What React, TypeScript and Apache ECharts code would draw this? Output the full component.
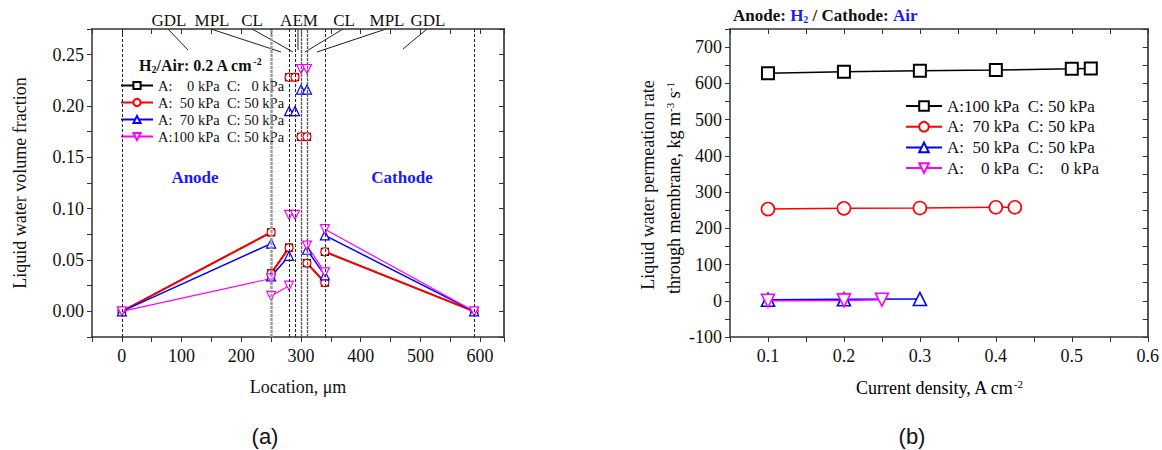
import React, { useEffect, useRef } from "react";
import * as echarts from "echarts";

const SERIF = "'Liberation Serif', 'Times New Roman', serif";
const SANS = "'Liberation Sans', Arial, sans-serif";

// ---------- (a) Liquid water volume fraction vs location ----------
const layerLines = [0, 250, 280, 290, 300, 310, 340, 590];
const leftSegX = [
  [0, 250],
  [250, 280],
  [280, 290],
  [300, 310],
  [310, 340],
  [340, 590],
];
const leftA0C0 = [[0, 0.077], [0.037, 0.062], [0.228, 0.228], [0.17, 0.17], [0.047, 0.028], [0.058, 0]];
const leftA50C50 = [[0, 0.077], [0.037, 0.062], [0.228, 0.228], [0.17, 0.17], [0.047, 0.028], [0.058, 0]];
const leftA70C50 = [[0, 0.066], [0.034, 0.054], [0.195, 0.195], [0.216, 0.216], [0.06, 0.035], [0.074, 0]];
const leftA100C50 = [[0, 0.032], [0.015, 0.025], [0.094, 0.094], [0.236, 0.236], [0.064, 0.038], [0.08, 0]];
const layerNames = ["GDL", "MPL", "CL", "AEM", "CL", "MPL", "GDL"];

// ---------- (b) permeation rate vs current density ----------
const rA100C50X = [0.1, 0.2, 0.3, 0.4, 0.5, 0.525];
const rA100C50 = [628, 632, 635, 637, 640, 641];
const rA70C50X = [0.1, 0.2, 0.3, 0.4, 0.425];
const rA70C50 = [253, 255, 256, 258, 258];
const rA50C50X = [0.1, 0.2, 0.3];
const rA50C50 = [3, 4, 5];
const rA0C0X = [0.1, 0.2, 0.25];
const rA0C0 = [0, 1, 3];

const legendLabels: Record<string, string> = {
  L0: "A:    0 kPa  C:   0 kPa",
  L50: "A:  50 kPa  C: 50 kPa",
  L70: "A:  70 kPa  C: 50 kPa",
  L100: "A:100 kPa  C: 50 kPa",
  R100: "A:100 kPa  C: 50 kPa",
  R70: "A:  70 kPa  C: 50 kPa",
  R50: "A:  50 kPa  C: 50 kPa",
  R0: "A:    0 kPa  C:    0 kPa",
};

function buildLeft(vals: number[][]) {
  const out: any[] = [];
  vals.forEach((pair, i) => {
    if (i > 0) out.push([leftSegX[i][0], "-"]);
    out.push([leftSegX[i][0], pair[0]], [leftSegX[i][1], pair[1]]);
  });
  return out;
}
function zip(xs: number[], ys: number[]) {
  return xs.map((x, i) => [x, ys[i]]);
}

const axisLineStyle = { color: "#333", width: 1.5 };
const labelStyle = { fontFamily: SERIF, fontSize: 18, color: "#111" };

function mirrorX(grid: number, min: number, max: number, interval: number) {
  return {
    gridIndex: grid, type: "value", position: "top", min, max, interval,
    axisLine: { show: true, onZero: false, lineStyle: axisLineStyle },
    axisTick: { show: true, inside: true, length: 5, lineStyle: { color: "#333" } },
    axisLabel: { show: false }, splitLine: { show: false },
  };
}
function mirrorY(grid: number, min: number, max: number, interval: number) {
  return {
    gridIndex: grid, type: "value", position: "right", min, max, interval,
    axisLine: { show: true, onZero: false, lineStyle: { color: "#555", width: 2 } },
    axisTick: { show: true, inside: true, length: 5, lineStyle: { color: "#333" } },
    axisLabel: { show: false }, splitLine: { show: false },
  };
}

function leftSeries(id: string, vals: number[][], color: string, symbol: string, size: number, lw: number, rotate = 0, extra: any = {}) {
  return {
    name: id, type: "line", xAxisIndex: 0, yAxisIndex: 0,
    data: buildLeft(vals), color,
    symbol, symbolSize: size, symbolRotate: rotate, showAllSymbol: true,
    connectNulls: false,
    lineStyle: { color, width: lw },
    itemStyle: { color: "#fff", borderColor: color, borderWidth: 1.2 },
    ...extra,
  };
}
function rightSeries(id: string, xs: number[], ys: number[], color: string, symbol: string, size: number, bw: number, rotate = 0) {
  return {
    name: id, type: "line", xAxisIndex: 2, yAxisIndex: 2,
    data: zip(xs, ys), color,
    symbol, symbolSize: size, symbolRotate: rotate, showAllSymbol: true,
    lineStyle: { color, width: 1.5 },
    itemStyle: { color: "#fff", borderColor: color, borderWidth: bw },
  };
}

const supRich = {
  n: { fontFamily: SERIF, fontSize: 18, color: "#111", lineHeight: 20 },
  s: { fontFamily: SERIF, fontSize: 11, color: "#111", lineHeight: 11, verticalAlign: "top" },
};

const center = { align: "center", verticalAlign: "middle", textAlign: "center", textVerticalAlign: "middle" };

export default function App() {
  const ref = useRef<HTMLDivElement>(null);
  useEffect(() => {
    if (!ref.current) return;
    const chart = echarts.init(ref.current, null, { renderer: "svg" });
    const topCenters = [169, 212, 252, 299, 344, 387, 428];
    const leaders = [
      [168, 29, 188, 50],
      [211, 29, 281, 52],
      [252, 29, 293, 52],
      [298, 29, 298, 50],
      [343, 29, 305, 52],
      [386, 29, 317, 52],
      [427, 29, 403, 49],
    ];
    const graphics: any[] = [];
    layerNames.forEach((t, i) => {
      graphics.push({
        type: "text", x: topCenters[i], y: 20,
        style: { text: t, fontFamily: SERIF, fontSize: 17, fill: "#111", ...center },
      });
    });
    leaders.forEach((l) => {
      graphics.push({ type: "line", shape: { x1: l[0], y1: l[1], x2: l[2], y2: l[3] }, style: { stroke: "#222", lineWidth: 1 } });
    });
    graphics.push(
      {
        type: "text", x: 139, y: 65,
        style: {
          text: "{b|H}{bs|2}{b|/Air: 0.2 A cm}{bp|-2}",
          verticalAlign: "middle", textVerticalAlign: "middle",
          rich: {
            b: { fontFamily: SERIF, fontSize: 16, fontWeight: "bold", fill: "#111", lineHeight: 18 },
            bs: { fontFamily: SERIF, fontSize: 10, fontWeight: "bold", fill: "#111", lineHeight: 10, verticalAlign: "bottom" },
            bp: { fontFamily: SERIF, fontSize: 10, fontWeight: "bold", fill: "#111", lineHeight: 10, verticalAlign: "top" },
          },
        },
      },
      { type: "text", x: 195, y: 177, style: { text: "Anode", fontFamily: SERIF, fontSize: 17, fontWeight: "bold", fill: "#1a1aff", ...center } },
      { type: "text", x: 402, y: 177, style: { text: "Cathode", fontFamily: SERIF, fontSize: 17, fontWeight: "bold", fill: "#1a1aff", ...center } },
      { type: "text", x: 20, y: 183, rotation: Math.PI / 2, style: { text: "Liquid water volume fraction", fontFamily: SERIF, fontSize: 18, fill: "#111", ...center } },
      { type: "text", x: 298, y: 387, style: { text: "Location, \u03bcm", fontFamily: SERIF, fontSize: 18, fill: "#111", ...center } },
      {
        type: "text", x: 733, y: 15,
        style: {
          text: "{b|Anode: }{c|H}{cs|2}{b| / Cathode: }{c|Air}",
          verticalAlign: "middle", textVerticalAlign: "middle",
          rich: {
            b: { fontFamily: SERIF, fontSize: 17, fontWeight: "bold", fill: "#111", lineHeight: 19 },
            c: { fontFamily: SERIF, fontSize: 17, fontWeight: "bold", fill: "#1a1aff", lineHeight: 19 },
            cs: { fontFamily: SERIF, fontSize: 10, fontWeight: "bold", fill: "#1a1aff", lineHeight: 10, verticalAlign: "bottom" },
          },
        },
      },
      { type: "text", x: 648, y: 185, rotation: Math.PI / 2, style: { text: "Liquid water permeation rate", fontFamily: SERIF, fontSize: 18, fill: "#111", ...center } },
      {
        type: "text", x: 674, y: 188, rotation: Math.PI / 2,
        style: { text: "{n|through membrane, kg m}{s|-3}{n| s}{s|-1}", ...center, rich: supRich },
      },
      {
        type: "text", x: 939, y: 388,
        style: { text: "{n|Current density, A cm}{s|-2}", ...center, rich: supRich },
      },
      { type: "text", x: 265, y: 436, style: { text: "(a)", fontFamily: SANS, fontSize: 22, fill: "#111", ...center } },
      { type: "text", x: 912, y: 436, style: { text: "(b)", fontFamily: SANS, fontSize: 22, fill: "#111", ...center } }
    );

    const markLineData = layerLines.map((x) => {
      if (x === 250) return { xAxis: x, lineStyle: { color: "#9a9a9a", width: 2.5, type: [3, 1] } };
      if (x === 300 || x === 310) return { xAxis: x, lineStyle: { color: "#555", width: 1.3, type: [3, 1] } };
      return { xAxis: x, lineStyle: { color: "#222", width: 1, type: [3, 2] } };
    });

    const option: any = {
      animation: false,
      backgroundColor: "#fff",
      textStyle: { fontFamily: SERIF },
      grid: [
        { left: 92, top: 29, width: 412, height: 308 },
        { left: 730, top: 29, width: 418, height: 308 },
      ],
      xAxis: [
        {
          gridIndex: 0, type: "value", position: "bottom", min: -50, max: 640, interval: 50,
          axisLine: { show: true, onZero: false, lineStyle: axisLineStyle },
          axisTick: { show: true, inside: false, length: 5, lineStyle: { color: "#333" } },
          axisLabel: {
            ...labelStyle, margin: 10,
            formatter: (v: number) => (Math.round(v) % 100 === 0 && v >= 0 && v <= 600 ? String(Math.round(v)) : ""),
          },
          splitLine: { show: false },
        },
        mirrorX(0, -50, 640, 50),
        {
          gridIndex: 1, type: "value", position: "bottom", min: 0.05, max: 0.6, interval: 0.05,
          axisLine: { show: true, onZero: false, lineStyle: axisLineStyle },
          axisTick: { show: true, inside: false, length: 5, lineStyle: { color: "#333" } },
          axisLabel: {
            ...labelStyle, margin: 10, showMaxLabel: true,
            formatter: (v: number) => {
              const k = Math.round(v * 100);
              return k % 10 === 0 ? (k / 100).toFixed(1) : "";
            },
          },
          splitLine: { show: false },
        },
        mirrorX(1, 0.05, 0.6, 0.05),
      ],
      yAxis: [
        {
          gridIndex: 0, type: "value", position: "left", min: -0.025, max: 0.275, interval: 0.025,
          axisLine: { show: true, onZero: false, lineStyle: axisLineStyle },
          axisTick: { show: true, inside: false, length: 5, lineStyle: { color: "#333" } },
          axisLabel: {
            ...labelStyle, margin: 8,
            formatter: (v: number) => {
              const k = Math.round(v * 1000);
              return k % 50 === 0 && k >= 0 && k <= 250 ? (k / 1000).toFixed(2) : "";
            },
          },
          splitLine: { show: false },
        },
        mirrorY(0, -0.025, 0.275, 0.025),
        {
          gridIndex: 1, type: "value", position: "left", min: -100, max: 750, interval: 50,
          axisLine: { show: true, onZero: false, lineStyle: axisLineStyle },
          axisTick: { show: true, inside: false, length: 5, lineStyle: { color: "#333" } },
          axisLabel: {
            ...labelStyle, margin: 8,
            formatter: (v: number) => (Math.round(v) % 100 === 0 && v <= 700 ? String(Math.round(v)) : ""),
          },
          splitLine: { show: false },
        },
        mirrorY(1, -100, 750, 50),
      ],
      legend: [
        {
          data: ["L0", "L50", "L70", "L100"],
          orient: "vertical", left: 120, top: 78, padding: 0,
          itemWidth: 32, itemHeight: 9, itemGap: 2,
          formatter: (n: string) => legendLabels[n],
          textStyle: { fontFamily: SERIF, fontSize: 14.5, color: "#111", lineHeight: 15 },
          selectedMode: false,
        },
        {
          data: ["R100", "R70", "R50", "R0"],
          orient: "vertical", left: 905, top: 97, padding: 0,
          itemWidth: 36, itemHeight: 12, itemGap: 2.7,
          formatter: (n: string) => legendLabels[n],
          textStyle: { fontFamily: SERIF, fontSize: 17, color: "#111", lineHeight: 18 },
          selectedMode: false,
        },
      ],
      graphic: graphics,
      series: [
        leftSeries("L0", leftA0C0, "#000000", "rect", 7, 1.5, 0, {
          markLine: { silent: true, symbol: ["none", "none"], label: { show: false }, data: markLineData },
        }),
        leftSeries("L50", leftA50C50, "#ff0000", "circle", 8, 2),
        leftSeries("L70", leftA70C50, "#0000ff", "triangle", 9, 1.5),
        leftSeries("L100", leftA100C50, "#ff00ff", "triangle", 9, 1.2, 180),
        rightSeries("R100", rA100C50X, rA100C50, "#000000", "rect", 12, 2),
        rightSeries("R70", rA70C50X, rA70C50, "#ff0000", "circle", 13, 1.6),
        rightSeries("R50", rA50C50X, rA50C50, "#0000ff", "triangle", 13, 1.6),
        rightSeries("R0", rA0C0X, rA0C0, "#ff00ff", "triangle", 13, 1.6, 180),
      ],
    };
    chart.setOption(option);
    return () => chart.dispose();
  }, []);
  return (
    <div
      ref={ref}
      style={{ position: "fixed", left: 0, top: 0, width: 1162, height: 450, background: "#fff" }}
    />
  );
}
